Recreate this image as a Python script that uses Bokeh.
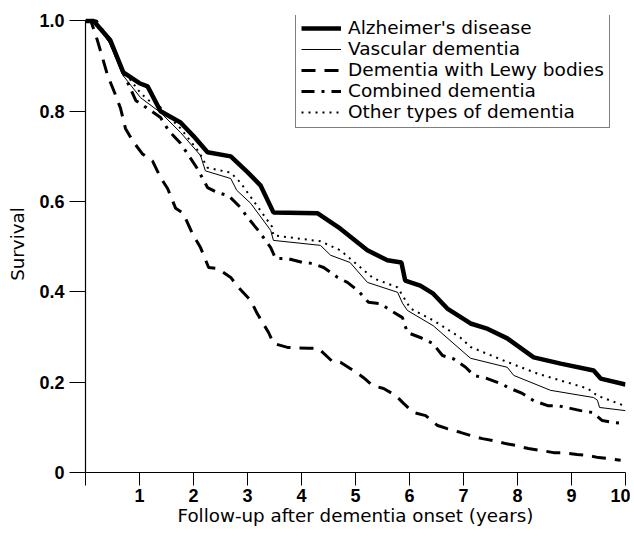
from bokeh.plotting import figure
from bokeh.models import Range1d, Legend, LegendItem, FixedTicker
from bokeh.embed import file_html
from bokeh.resources import INLINE

# ---- data ----
alz_x = [0, 0.15, 0.46, 0.70, 1.0, 1.15, 1.39, 1.76, 2.0, 2.26, 2.69, 3.0, 3.24, 3.48, 4.30, 4.72,
         5.22, 5.59, 5.85, 5.92, 6.2, 6.44, 6.70, 7.13, 7.45, 7.81, 8.30, 8.80, 9.41, 9.54, 10.0]
alz_y = [1.0, 1.0, 0.957, 0.886, 0.862, 0.855, 0.80, 0.775, 0.745, 0.709, 0.700, 0.665, 0.636, 0.576,
         0.574, 0.540, 0.492, 0.470, 0.465, 0.425, 0.414, 0.396, 0.363, 0.330, 0.318, 0.297, 0.255,
         0.241, 0.226, 0.208, 0.195]

vas_x = [0, 0.15, 0.45, 0.69, 1.02, 1.39, 1.76, 2.13, 2.22, 2.69, 2.8, 3.06, 3.43, 3.48, 4.35, 4.54,
         4.9, 5.22, 5.78, 5.87, 5.96, 6.44, 7.13, 7.81, 7.93, 8.61, 9.41, 9.48, 9.52, 10.0]
vas_y = [1.0, 1.0, 0.95, 0.88, 0.83, 0.797, 0.753, 0.702, 0.668, 0.651, 0.625, 0.596, 0.536, 0.514,
         0.503, 0.481, 0.465, 0.421, 0.399, 0.375, 0.359, 0.325, 0.253, 0.233, 0.215, 0.182, 0.166,
         0.160, 0.144, 0.137]

lewy_x = [0, 0.1, 0.22, 0.33, 0.41, 0.56, 0.65, 0.74, 0.87, 1.05, 1.24, 1.39, 1.52, 1.67, 1.81, 1.98,
          2.13, 2.28, 2.44, 2.69, 2.83, 3.06, 3.18, 3.39, 3.48, 3.74, 4.13, 4.31, 4.57, 4.72, 4.96,
          5.15, 5.31, 5.52, 5.74, 5.89, 6.07, 6.3, 6.52, 6.7, 6.94, 7.13, 7.35, 7.54, 7.78, 7.96,
          8.2, 8.43, 8.67, 8.85, 9.1, 9.3, 9.5, 9.69, 9.91]
lewy_y = [1.0, 1.0, 0.957, 0.912, 0.879, 0.835, 0.806, 0.762, 0.735, 0.706, 0.69, 0.653, 0.629, 0.585,
          0.574, 0.529, 0.498, 0.454, 0.452, 0.432, 0.41, 0.381, 0.352, 0.31, 0.286, 0.277, 0.275,
          0.275, 0.246, 0.244, 0.226, 0.21, 0.193, 0.186, 0.171, 0.153, 0.133, 0.126, 0.104, 0.097,
          0.089, 0.082, 0.075, 0.071, 0.064, 0.06, 0.053, 0.049, 0.044, 0.044, 0.04, 0.038, 0.033,
          0.031, 0.027]

comb_x = [0, 0.2, 0.45, 0.7, 0.93, 1.2, 1.39, 1.54, 1.76, 1.91, 2.07, 2.26, 2.44, 2.65, 2.87, 3.0,
          3.2, 3.43, 3.52, 3.74, 4.02, 4.2, 4.41, 4.67, 4.85, 5.06, 5.24, 5.46, 5.65, 5.87, 5.96,
          6.2, 6.43, 6.61, 6.81, 7.04, 7.19, 7.44, 7.69, 7.83, 8.09, 8.3, 8.56, 8.74, 8.98, 9.17,
          9.39, 9.57, 9.78, 10]
comb_y = [1.0, 1.0, 0.955, 0.885, 0.824, 0.802, 0.786, 0.757, 0.729, 0.702, 0.673, 0.631, 0.62, 0.613,
          0.587, 0.565, 0.536, 0.498, 0.474, 0.474, 0.465, 0.463, 0.454, 0.432, 0.421, 0.401, 0.377,
          0.374, 0.359, 0.343, 0.31, 0.299, 0.286, 0.259, 0.252, 0.233, 0.215, 0.208, 0.197, 0.188,
          0.175, 0.159, 0.148, 0.148, 0.142, 0.137, 0.133, 0.115, 0.111, 0.108]

oth_x = [0, 0.15, 0.45, 0.70, 1.02, 1.17, 1.33, 1.48, 1.76, 2.10, 2.26, 2.69, 2.87, 3.06, 3.3, 3.45,
         3.48, 4.35, 4.72, 5.33, 5.78, 5.83, 6.02, 6.44, 6.94, 7.13, 7.74, 8.37, 9.3, 9.48, 10]
oth_y = [1.0, 1.0, 0.955, 0.89, 0.84, 0.824, 0.817, 0.795, 0.762, 0.71, 0.675, 0.664, 0.642, 0.61,
         0.57, 0.545, 0.525, 0.512, 0.492, 0.430, 0.41, 0.40, 0.363, 0.337, 0.299, 0.278, 0.248,
         0.219, 0.186, 0.170, 0.147]

labels = ["Alzheimer's disease", "Vascular dementia", "Dementia with Lewy bodies",
          "Combined dementia", "Other types of dementia"]
x_ticks = [0, 1, 2, 3, 4, 5, 6, 7, 8, 9, 10]
y_ticks = [0, 0.2, 0.4, 0.6, 0.8, 1.0]
y_tick_labels = ["0", "0.2", "0.4", "0.6", "0.8", "1.0"]

FONT = "Liberation Sans"
TFONT = "DejaVu Sans"

p = figure(width=630, height=532, output_backend="svg", toolbar_location=None,
           x_range=Range1d(0, 10), y_range=Range1d(0, 1.012),
           min_border_left=85, min_border_right=5, min_border_top=15, min_border_bottom=60)
p.outline_line_color = None
p.xgrid.visible = False
p.ygrid.visible = False
p.background_fill_color = "white"

r_alz = p.line(alz_x, alz_y, line_color="black", line_width=4.5)
r_vas = p.line(vas_x, vas_y, line_color="black", line_width=1)
r_lewy = p.line(lewy_x, lewy_y, line_color="black", line_width=3, line_dash="14 9")
r_comb = p.line(comb_x, comb_y, line_color="black", line_width=3, line_dash="13 7 3 7")
r_oth = p.line(oth_x, oth_y, line_color="black", line_width=2, line_dash="2 5")

legend = Legend(items=[LegendItem(label=labels[0], renderers=[r_alz]),
                       LegendItem(label=labels[1], renderers=[r_vas]),
                       LegendItem(label=labels[2], renderers=[r_lewy]),
                       LegendItem(label=labels[3], renderers=[r_comb]),
                       LegendItem(label=labels[4], renderers=[r_oth])],
                location=(210, 344))
legend.label_text_font = TFONT
legend.label_text_font_size = "18.5px"
legend.label_text_color = "black"
legend.glyph_width = 40
legend.glyph_height = 20
legend.label_height = 20
legend.label_standoff = 7
legend.padding = 5
legend.spacing = 0
legend.margin = 0
legend.border_line_color = "black"
legend.border_line_width = 1.5
legend.background_fill_alpha = 1.0
p.add_layout(legend, "center")

xa = p.xaxis[0]
xa.ticker = FixedTicker(ticks=x_ticks)
xa.major_label_overrides = {0: ""}
xa.bounds = (0, 10)
xa.axis_label = "Follow-up after dementia onset (years)"
ya = p.yaxis[0]
ya.ticker = FixedTicker(ticks=y_ticks)
ya.major_label_overrides = {t: l for t, l in zip(y_ticks, y_tick_labels)}
ya.bounds = (0, 1)
ya.axis_label = "Survival"

for ax in (xa, ya):
    ax.axis_line_color = "black"
    ax.axis_line_width = 1.2
    ax.major_tick_line_color = "black"
    ax.major_tick_in = 0
    ax.minor_tick_line_color = None
    ax.major_label_text_font = FONT
    ax.major_label_text_font_style = "bold"
    ax.major_label_text_font_size = "18px"
    ax.major_label_text_color = "black"
    ax.axis_label_text_font = TFONT
    ax.axis_label_text_font_style = "normal"
    ax.axis_label_text_font_size = "18.3px"
    ax.axis_label_text_color = "black"

xa.major_tick_out = 13
xa.major_label_standoff = 3
xa.axis_label_standoff = 0
ya.major_tick_out = 16
ya.major_label_standoff = 5
ya.axis_label_standoff = 8

open("out.html", "w").write(file_html(p, INLINE))
